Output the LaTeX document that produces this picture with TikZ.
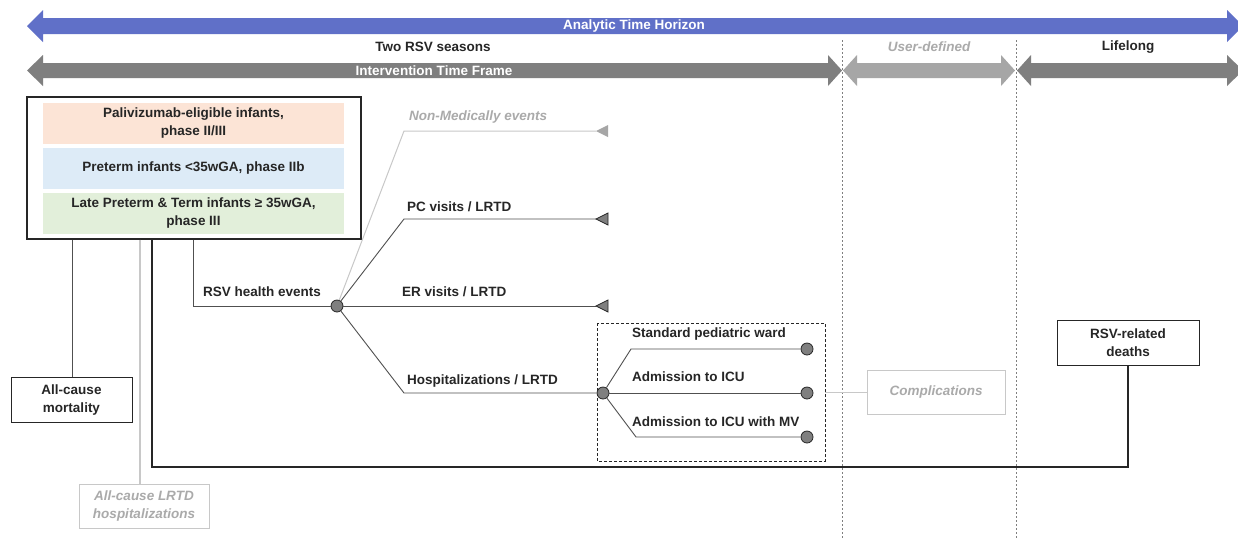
\documentclass[tikz,border=0pt]{standalone}
\usepackage{fontspec}
\setmainfont{Liberation Sans}
\definecolor{hblue}{RGB}{96,112,200}
\definecolor{arrdark}{RGB}{127,127,127}
\definecolor{arrlight}{RGB}{166,166,166}
\definecolor{peach}{RGB}{252,228,214}
\definecolor{lblue}{RGB}{221,235,247}
\definecolor{lgreen}{RGB}{226,239,218}
\definecolor{txtgray}{RGB}{170,170,170}
\definecolor{linegray}{RGB}{200,200,200}
\definecolor{ink}{RGB}{38,38,38}
\definecolor{conn}{RGB}{80,80,80}
\begin{document}
\begin{tikzpicture}[x=1pt,y=-1pt,
  every node/.style={font=\fontsize{13.5}{18}\selectfont\bfseries, text=ink, inner sep=0pt, align=center},
  lbl/.style={anchor=west},
  graylbl/.style={text=txtgray, font=\fontsize{13.5}{18}\selectfont\bfseries\itshape},
  band/.style={minimum width=301pt, minimum height=41pt},
  outbox/.style={draw=ink, line width=1.3pt},
  conline/.style={draw=conn, line width=0.9pt},
  faint/.style={draw=linegray, line width=1pt},
  dot/.style={circle, fill=arrdark, draw=ink, line width=0.8pt, minimum size=12pt},
  vdash/.style={draw=arrdark, line width=0.8pt, dash pattern=on 2pt off 2pt}
]
\clip (0,0) rectangle (1238,539);
\fill[white] (0,0) rectangle (1238,539);

% ---- time arrows
\fill[hblue] (27,26) -- (43,10) -- (43,18) -- (1227,18) -- (1227,10) -- (1243,26) -- (1227,42) -- (1227,34) -- (43,34) -- (43,42) -- cycle;
\node[text=white] (ath) at (634,26) {Analytic Time Horizon};

\fill[arrdark] (27,70.5) -- (43,55) -- (43,63) -- (828,63) -- (828,55) -- (842,70.5) -- (828,86) -- (828,78) -- (43,78) -- (43,86) -- cycle;
\node[text=white] (itf) at (434,70.5) {Intervention Time Frame};
\fill[arrlight] (843,70.5) -- (857,55) -- (857,63) -- (1001,63) -- (1001,55) -- (1015,70.5) -- (1001,86) -- (1001,78) -- (857,78) -- (857,86) -- cycle;
\fill[arrdark] (1017,70.5) -- (1031,55) -- (1031,63) -- (1227,63) -- (1227,55) -- (1243,70.5) -- (1227,86) -- (1227,78) -- (1031,78) -- (1031,86) -- cycle;

\node (two) at (433,47) {Two RSV seasons};
\node[graylbl] (user) at (929,47) {User-defined};
\node (life) at (1128,47) {Lifelong};

\draw[vdash] (842,40) -- (842,539);
\draw[vdash] (1016,40) -- (1016,539);

% ---- population box
\node[outbox, minimum width=334pt, minimum height=142pt] (pop) at (194,168) {};
\node[band, fill=peach] (b1) at (193.5,123.5) {Palivizumab-eligible infants,\\phase II/III};
\node[band, fill=lblue] (b2) at (193.5,168.5) {Preterm infants <35wGA, phase IIb};
\node[band, fill=lgreen] (b3) at (193.5,213.5) {Late Preterm \& Term infants ≥ 35wGA,\\phase III};

% ---- outcome boxes
\node[outbox, line width=1pt, minimum width=121pt, minimum height=45pt] (mort) at (71.5,399.5) {All-cause\\mortality};
\node[draw=linegray, line width=1pt, minimum width=130pt, minimum height=44pt, graylbl] (lrtd) at (144,506) {All-cause LRTD\\hospitalizations};
\node[outbox, line width=1pt, minimum width=142pt, minimum height=45pt] (death) at (1128,342.5) {RSV-related\\deaths};
\node[draw=linegray, line width=1pt, minimum width=138pt, minimum height=44pt, graylbl] (comp) at (936,392) {Complications};

% ---- connectors from population box
\draw[conline] (pop.south -| 72,0) -- (mort.north -| 72,0);
\draw[draw=linegray, line width=1.8pt] (pop.south -| 140,0) -- (lrtd.north -| 140,0);
\draw[draw=ink, line width=1.3pt] (pop.south -| 152,0) -- (152,467) -- (1128,467) -- (death.south);

% ---- RSV health events tree
\node[dot] (ev) at (337,306) {};
\node[lbl] (evl) at (203,292) {RSV health events};
\draw[conline] (pop.south -| 193,0) -- (193,306) -- (ev);

\coordinate (tnm) at (596,131);
\coordinate (tpc) at (596,219);
\coordinate (ter) at (596,306);
\draw[faint] (ev) -- (404,131) -- (tnm);
\fill[arrlight] (tnm) -- ++(12,-6) -- ++(0,12) -- cycle;
\node[lbl, graylbl] (nml) at (409,117) {Non-Medically events};

\draw[conline] (ev) -- (404,219) -- (tpc);
\filldraw[fill=arrdark, draw=ink, line width=0.8pt] (tpc) -- ++(12,-6) -- ++(0,12) -- cycle;
\node[lbl] (pcl) at (407,207) {PC visits / LRTD};

\draw[conline] (ev) -- (ter);
\filldraw[fill=arrdark, draw=ink, line width=0.8pt] (ter) -- ++(12,-6) -- ++(0,12) -- cycle;
\node[lbl] (erl) at (402,292) {ER visits / LRTD};

% ---- hospitalization sub-tree
\draw[draw=ink, line width=1pt, dash pattern=on 3pt off 2pt] (597,323) rectangle (825,461);
\coordinate (dboxr) at (825,392);
\node[dot] (hosp) at (603,393) {};
\draw[conline] (ev) -- (404,393) -- (hosp);
\node[lbl] (hl) at (407,381) {Hospitalizations / LRTD};

\node[dot] (e1) at (807,349) {};
\node[dot] (e2) at (807,393) {};
\node[dot] (e3) at (807,437) {};
\draw[conline] (hosp) -- (631,349) -- (e1);
\draw[conline] (hosp) -- (e2);
\draw[conline] (hosp) -- (636,437) -- (e3);
\node[lbl] (l1) at (632,334) {Standard pediatric ward};
\node[lbl] (l2) at (632,377) {Admission to ICU};
\node[lbl] (l3) at (632,422) {Admission to ICU with MV};

\draw[faint] (dboxr) -- (comp.west);
\end{tikzpicture}
\end{document}
